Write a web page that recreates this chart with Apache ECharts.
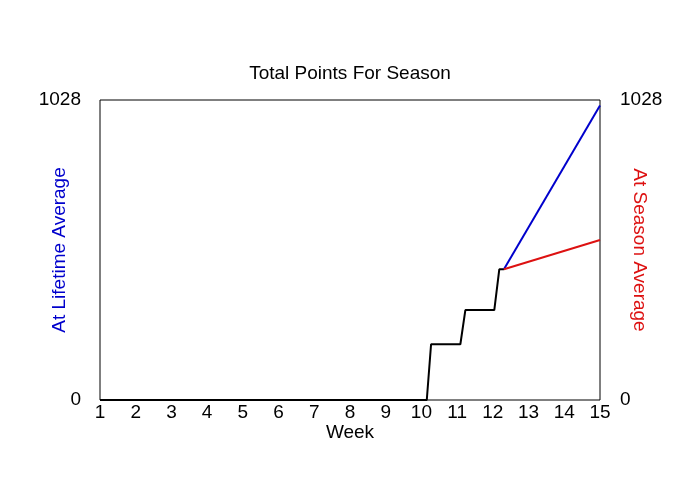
<!DOCTYPE html>
<html>
<head>
<meta charset="utf-8">
<script src="https://cdn.jsdelivr.net/npm/echarts@6/dist/echarts.min.js"></script>
<style>
html, body { margin: 0; padding: 0; background: #fff; }
#main { width: 700px; height: 500px; }
</style>
</head>
<body>
<div id="main"></div>
<script>
// season totals so far (week, points)
var weeks = [1, 10.15, 10.27, 11.09, 11.23, 12.04, 12.18, 12.31];
var totals = [0, 0, 191, 191, 308, 308, 448, 448];
// projections to the end of the season
var projWeeks = [12.31, 15];
var lifetimeAvg = [448, 1009];
var seasonAvg = [448, 548];
var yMax = 1028;

function pairs(xs, ys) {
	var out = [];
	for (var i = 0; i < xs.length; i++) out.push([xs[i], ys[i]]);
	return out;
}
// plain numbers, no thousands separator
function plain(v) { return String(v); }

var chart = echarts.init(document.getElementById('main'));
var font = 'Liberation Sans, Arial, sans-serif';
var option = {
	animation: false,
	title: {
		text: 'Total Points For Season',
		left: 'center',
		top: 59,
		textStyle: { fontFamily: font, fontSize: 19, fontWeight: 'normal', color: '#000' }
	},
	grid: {
		left: 100, right: 100, top: 100, bottom: 100,
		outerBoundsMode: 'none', containLabel: false,
		show: true, borderColor: '#000', borderWidth: 1
	},
	xAxis: {
		type: 'value', min: 1, max: 15, interval: 1,
		name: 'Week', nameLocation: 'middle', nameGap: 23, nameMoveOverlap: false,
		nameTextStyle: { fontFamily: font, fontSize: 19, color: '#000' },
		axisLine: { show: false },
		axisTick: { show: false },
		splitLine: { show: false },
		axisLabel: { fontFamily: font, fontSize: 19, color: '#000', margin: 3 }
	},
	yAxis: [{
		type: 'value', min: 0, max: yMax, interval: yMax,
		position: 'left',
		name: 'At Lifetime Average', nameLocation: 'middle', nameGap: 31, nameMoveOverlap: false,
		nameTextStyle: { fontFamily: font, fontSize: 19, color: '#0000cc' },
		axisLine: { show: false }, axisTick: { show: false }, splitLine: { show: false },
		axisLabel: { fontFamily: font, fontSize: 19, color: '#000', margin: 19, formatter: plain }
	}, {
		type: 'value', min: 0, max: yMax, interval: yMax,
		position: 'right',
		name: 'At Season Average', nameLocation: 'middle', nameGap: 30, nameRotate: -90, nameMoveOverlap: false,
		nameTextStyle: { fontFamily: font, fontSize: 19, color: '#dd1111' },
		axisLine: { show: false }, axisTick: { show: false }, splitLine: { show: false },
		axisLabel: { fontFamily: font, fontSize: 19, color: '#000', margin: 20, formatter: plain }
	}],
	series: [{
		name: 'Total', type: 'line', showSymbol: false,
		lineStyle: { color: '#000', width: 2 },
		data: pairs(weeks, totals)
	}, {
		name: 'At Lifetime Average', type: 'line', showSymbol: false,
		lineStyle: { color: '#0000cc', width: 2 },
		data: pairs(projWeeks, lifetimeAvg)
	}, {
		name: 'At Season Average', type: 'line', showSymbol: false,
		lineStyle: { color: '#dd1111', width: 2 },
		data: pairs(projWeeks, seasonAvg)
	}]
};
chart.setOption(option);
</script>
</body>
</html>
